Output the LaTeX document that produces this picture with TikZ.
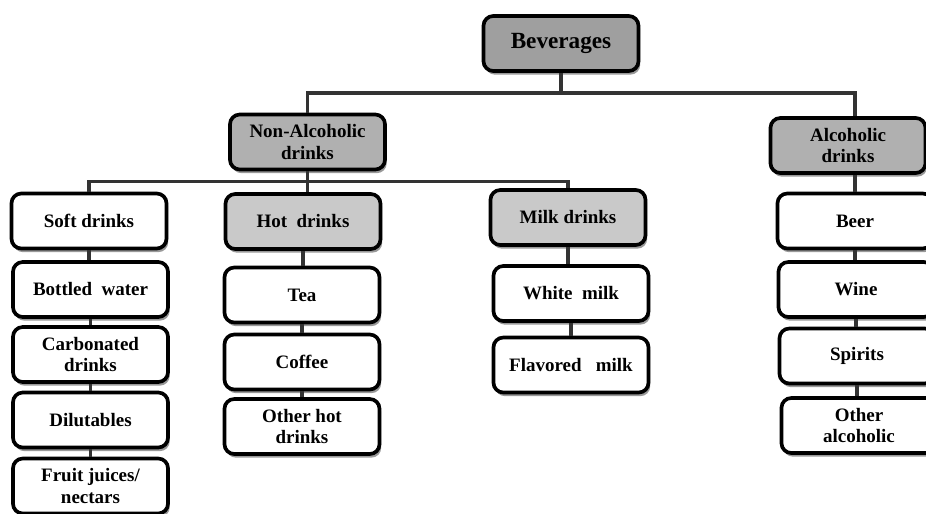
\documentclass[tikz,border=0pt]{standalone}
\usepackage{fontspec}
\setmainfont{Liberation Serif}
\usetikzlibrary{shadows}
\begin{document}
\begin{tikzpicture}[x=0.025cm,y=-0.025cm,
	box/.style={draw=black,line width=2.6pt,rounded corners=7pt,fill=white,align=center,
		minimum width=3.875cm,minimum height=1.375cm,inner sep=1pt,
		font=\fontsize{13.5}{15.5}\selectfont\bfseries,
		drop shadow={shadow xshift=1.2pt,shadow yshift=-2.6pt,fill=black!40,opacity=1}},
	rootbox/.style={box,fill=gray!75,font=\fontsize{16.5}{18}\selectfont\bfseries},
	groupbox/.style={box,fill=gray!62},
	subbox/.style={box,fill=gray!42},
	link/.style={draw=black!80,line width=2.6pt}]
	\useasboundingbox (0,0) rectangle (926,513);
	\clip (0,0) rectangle (926,513);
	% top levels
	\node[rootbox] (bev) at (561,43.5) {Beverages};
	\node[groupbox] (nonalc) at (307.5,142) {Non-Alcoholic\\drinks};
	\node[groupbox] (alc) at (848,145.5) {Alcoholic\\drinks};
	% soft drinks column
	\node[box] (soft) at (89,221) {Soft drinks};
	\node[box] (bottled) at (90.5,289.5) {Bottled\ \ water};
	\node[box] (carb) at (90.5,354.5) {Carbonated\\drinks};
	\node[box] (dilut) at (90.5,420) {Dilutables};
	\node[box] (fruit) at (90.5,486) {Fruit juices/\\nectars};
	% hot drinks column
	\node[subbox] (hot) at (303,221.5) {Hot\ \ drinks};
	\node[box] (tea) at (302,295) {Tea};
	\node[box] (coffee) at (302,362) {Coffee};
	\node[box] (otherhot) at (302,426.5) {Other hot\\drinks};
	% milk drinks column
	\node[subbox] (milk) at (568,217.5) {Milk drinks};
	\node[box] (white) at (571,293.5) {White\ \ milk};
	\node[box] (flav) at (571,365) {Flavored\ \ \ milk};
	% alcoholic column
	\node[box] (beer) at (855,221) {Beer};
	\node[box] (wine) at (856,289.5) {Wine};
	\node[box] (spirits) at (857,356) {Spirits};
	\node[box] (otheralc) at (859,425.5) {Other\\alcoholic};
	% connectors
	\draw[link] (bev.south) -- ++(0,20) coordinate (bevbar);
	\draw[link] (nonalc.north) |- (bevbar) -| (alc.north -| beer.north);
	\draw[link] (nonalc.south) -- ++(0,10) coordinate (nabar) -- (nonalc.south |- hot.north);
	\draw[link] (soft.north) |- (nabar) -| (milk.north);
	\draw[link] (alc.south -| beer.north) -- (beer.north);
	\foreach \upper/\lower in {soft/bottled,bottled/carb,carb/dilut,dilut/fruit,
		hot/tea,tea/coffee,coffee/otherhot,milk/white,white/flav,
		beer/wine,wine/spirits,spirits/otheralc}
		\draw[link] (\upper.south) -- (\upper.south |- \lower.north);
\end{tikzpicture}
\end{document}
